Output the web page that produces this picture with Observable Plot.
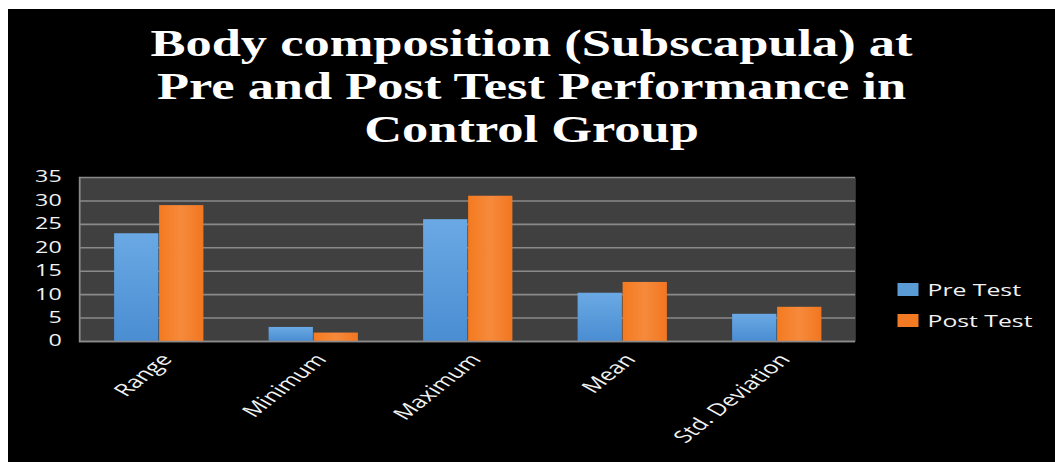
<!DOCTYPE html>
<html>
<head>
<meta charset="utf-8">
<script src="https://cdn.jsdelivr.net/npm/d3@7"></script>
<script src="https://cdn.jsdelivr.net/npm/@observablehq/plot@0.6"></script>
<style>
  html, body { margin: 0; padding: 0; background: #ffffff; width: 1055px; height: 462px; overflow: hidden; }
  #stage {
    position: absolute; left: 8px; top: 9px; width: 698px; height: 453px;
    background: #000000; transform: scaleX(1.5); transform-origin: 0 0;
    font-family: "Open Sans", sans-serif; color: #f2f2f2;
  }
  #title {
    position: absolute; left: 0; top: 13px; width: 100%; text-align: center;
    font-family: "Liberation Serif", "Times New Roman", serif; font-weight: bold;
    font-size: 37px; line-height: 43px; color: #ffffff;
    transform: scaleX(0.945); transform-origin: 50% 0;
  }
  #chart { position: absolute; left: 0; top: 151px; }
  #legend { position: absolute; left: 593px; top: 265px; }
  .lg-item { display: flex; align-items: center; height: 31px; font-size: 16.5px; color: #f2f2f2; }
  .lg-sw { width: 14px; height: 13px; margin-right: 6px; }
</style>
</head>
<body>
<div id="stage">
  <div id="title"></div>
  <div id="chart"></div>
  <div id="legend"></div>
</div>
<script>
const titleLines = ["Body composition (Subscapula) at", "Pre and Post Test Performance in", "Control Group"];
const categories = ["Range", "Minimum", "Maximum", "Mean", "Std. Deviation"];
const series = ["Pre Test", "Post Test"];
const preTest = [23, 3, 26, 10.3, 5.8];
const postTest = [29, 1.8, 31, 12.6, 7.3];
const yTicks = [0, 5, 10, 15, 20, 25, 30, 35];
const seriesColors = ["#5b9bd5", "#f27a22"];

document.getElementById("title").innerHTML = titleLines.map(t => `<div>${t}</div>`).join("");

const W = 698, H = 302, mL = 47.3, mR = 133.3, mT = 17, mB = 121;
const bandW = (W - mL - mR) / categories.length;
const barW = 30;
const outer = (bandW - 2 * barW) / 2;

const preData = categories.map((c, i) => ({cat: c, series: series[0], value: preTest[i]}));
const postData = categories.map((c, i) => ({cat: c, series: series[1], value: postTest[i]}));

const svg = Plot.plot({
  width: W, height: H,
  marginLeft: mL, marginRight: mR, marginTop: mT, marginBottom: mB,
  style: {background: "transparent", color: "#f2f2f2", fontFamily: "Open Sans, sans-serif"},
  x: {domain: categories, padding: 0, label: null},
  y: {domain: [0, 35], ticks: yTicks, label: null, tickSize: 0, tickPadding: 12},
  color: {domain: series, range: ["url(#gPre)", "url(#gPost)"]},
  marks: [
    Plot.frame({fill: "#404040", stroke: null}),
    Plot.ruleY(yTicks, {stroke: "#8a8a8a", strokeWidth: 1.6}),
    Plot.frame({anchor: "left", stroke: "#8a8a8a", strokeWidth: 1.2}),
    Plot.barY(preData, {x: "cat", y: "value", fill: "series", insetLeft: outer, insetRight: outer + barW}),
    Plot.barY(postData, {x: "cat", y: "value", fill: "series", insetLeft: outer + barW, insetRight: outer}),
    Plot.ruleY([0], {stroke: "#8a8a8a", strokeWidth: 1.6}),
    Plot.axisX({tickSize: 0, tickPadding: 15, tickRotate: -50, dx: 5, label: null, fontSize: 17})
  ]
});

// gradient definitions for the bars
const defs = d3.select(svg).insert("defs", ":first-child");
const gPre = defs.append("linearGradient").attr("id", "gPre").attr("x1", 0).attr("y1", 0).attr("x2", 0).attr("y2", 1);
gPre.append("stop").attr("offset", "0%").attr("stop-color", "#6aa9e4");
gPre.append("stop").attr("offset", "100%").attr("stop-color", "#4a8dd2");
const gPost = defs.append("linearGradient").attr("id", "gPost").attr("x1", 0).attr("y1", 0).attr("x2", 1).attr("y2", 0);
gPost.append("stop").attr("offset", "0%").attr("stop-color", "#f47a1f");
gPost.append("stop").attr("offset", "50%").attr("stop-color", "#f68a3c");
gPost.append("stop").attr("offset", "100%").attr("stop-color", "#f27620");

d3.select(svg).selectAll("g[aria-label='y-axis tick label'] text").style("font-size", "15.5px");
d3.select(svg).selectAll("g[aria-label='x-axis tick label'] text").style("font-size", "17px");

document.getElementById("chart").appendChild(svg);

document.getElementById("legend").innerHTML = series.map((s, i) =>
  `<div class="lg-item"><div class="lg-sw" style="background:${seriesColors[i]}"></div><span>${s}</span></div>`
).join("");
</script>
</body>
</html>
